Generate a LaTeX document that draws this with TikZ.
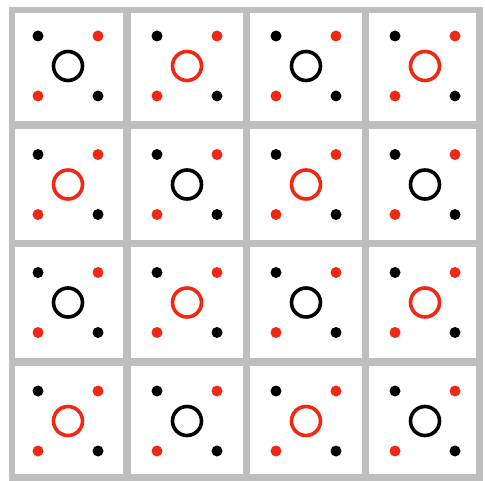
\documentclass[tikz,border=0pt]{standalone}
\usepackage{tikz}
\definecolor{gridgray}{HTML}{BEBEBE}
\definecolor{accent}{HTML}{F02814}

\begin{document}
\begin{tikzpicture}[x=1pt,y=-1pt,
  ring/.style={circle,draw=#1,line width=3.6pt,minimum size=29pt,inner sep=0pt},
  pin/.style={circle,fill=#1,minimum size=11pt,inner sep=0pt},
  gridline/.style={draw=gridgray,line width=7.5pt}]
\useasboundingbox (0,0) rectangle (485,481);
% cell borders
\foreach \gx in {127,246.5,365.5} \draw[gridline] (\gx,10) -- (\gx,477.5);
\foreach \gy in {125,243.5,362} \draw[gridline] (12,\gy) -- (479.5,\gy);
\draw[gridline,line width=6.5pt] (12,10) rectangle (479.5,477.5);
% rings and corner pins, rings in a checkerboard
\foreach \cx [count=\i] in {68,187,306,425}
  \foreach \cy [count=\j] in {66,184.5,302.5,421}
  {
    \pgfmathtruncatemacro\flip{mod(\i+\j,2)}
    \ifnum\flip=0 \def\rc{black}\else\def\rc{accent}\fi
    \node[ring=\rc] (ring-\i-\j) at (\cx,\cy) {};
    \node[pin=black] (nw-\i-\j) at (\cx-30,\cy-30) {};
    \node[pin=accent] (ne-\i-\j) at (\cx+30,\cy-30) {};
    \node[pin=accent] (sw-\i-\j) at (\cx-30,\cy+30) {};
    \node[pin=black] (se-\i-\j) at (\cx+30,\cy+30) {};
  }
\end{tikzpicture}
\end{document}
